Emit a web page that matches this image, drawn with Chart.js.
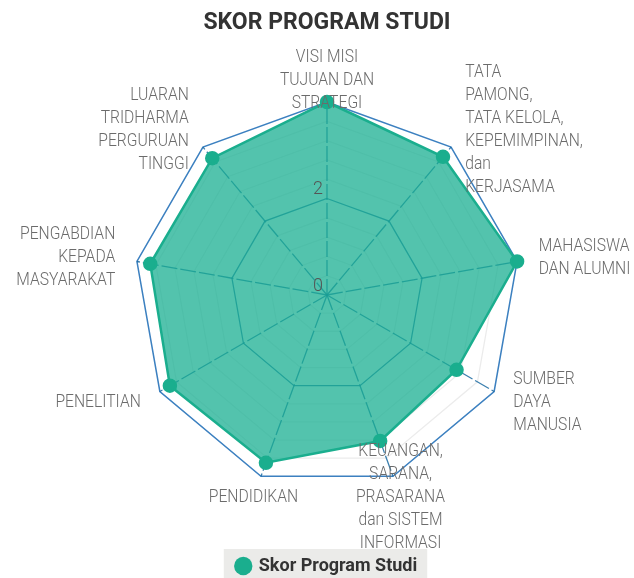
<!DOCTYPE html>
<html>
<head>
<meta charset="utf-8">
<script src="https://cdn.jsdelivr.net/npm/chart.js@4/dist/chart.umd.min.js"></script>
<style>
  html, body { margin: 0; padding: 0; background: #fff; }
  #wrap { width: 634px; height: 578px; }
</style>
</head>
<body>
<div id="wrap"><canvas id="grafik"></canvas></div>
<script>
const kategori = [
  ['VISI MISI', 'TUJUAN DAN', 'STRATEGI'],
  ['TATA', 'PAMONG,', 'TATA KELOLA,', 'KEPEMIMPINAN,', 'dan', 'KERJASAMA'],
  ['MAHASISWA', 'DAN ALUMNI'],
  ['SUMBER', 'DAYA', 'MANUSIA'],
  ['KEUANGAN,', 'SARANA,', 'PRASARANA', 'dan SISTEM', 'INFORMASI'],
  ['PENDIDIKAN'],
  ['PENELITIAN'],
  ['PENGABDIAN', 'KEPADA', 'MASYARAKAT'],
  ['LUARAN', 'TRIDHARMA', 'PERGURUAN', 'TINGGI']
];
const skor = [4.0, 3.74, 4.0, 3.1, 3.22, 3.7, 3.76, 3.72, 3.7];
const tickLabels = [0, 2];
const skalaMin = 0;
const skalaMax = 4;

const hijau = '#1aae8e';
const biru = '#3c80c0';
const garisTengah = 'rgba(25,105,160,0.85)';

// latar abu-abu di belakang legend
const latarLegend = {
  id: 'latarLegend',
  beforeDraw(chart) {
    const lg = chart.legend;
    if (!lg || !lg.legendHitBoxes.length) return;
    const hb = lg.legendHitBoxes[0];
    const ctx = chart.ctx;
    ctx.save();
    ctx.fillStyle = '#ebebe9';
    ctx.fillRect(hb.left - 13, hb.top + hb.height / 2 - 17, hb.width + 23, chart.height);
    ctx.restore();
  }
};

// label sudut dan angka skala, digambar di atas area data
const labelRadar = {
  id: 'labelRadar',
  afterDatasetsDraw(chart) {
    const sc = chart.scales.r;
    const ctx = chart.ctx;
    ctx.save();
    ctx.fillStyle = '#6b6b6b';
    ctx.font = '300 18px Roboto';
    ctx.textBaseline = 'middle';
    kategori.forEach((baris, i) => {
      const pos = sc.getPointPosition(i, sc.drawingArea + 22);
      const dx = pos.x - sc.xCenter;
      let align = 'center';
      if (dx > 100) align = 'left';
      else if (dx < -100) align = 'right';
      ctx.textAlign = align;
      baris.forEach((teks, j) => {
        const y = pos.y + (j - (baris.length - 1) / 2) * 23;
        ctx.save();
        ctx.translate(pos.x, y);
        ctx.scale(0.87, 1);
        ctx.fillText(teks, 0, 0);
        ctx.restore();
      });
    });
    ctx.fillStyle = '#555';
    ctx.textAlign = 'right';
    tickLabels.forEach(v => {
      const d = sc.getDistanceFromCenterForValue(v);
      ctx.fillText(String(v), sc.xCenter - 4, sc.yCenter - d - 9);
    });
    ctx.restore();
  }
};

const ctx = document.getElementById('grafik').getContext('2d');
new Chart(ctx, {
  type: 'radar',
  data: {
    labels: kategori,
    datasets: [{
      label: 'Skor Program Studi',
      data: skor,
      backgroundColor: 'rgba(26,175,145,0.75)',
      borderColor: hijau,
      borderWidth: 2.5,
      pointBackgroundColor: hijau,
      pointBorderColor: hijau,
      pointRadius: 6,
      pointStyle: 'circle',
      clip: false
    }]
  },
  options: {
    responsive: true,
    maintainAspectRatio: false,
    animation: false,
    layout: { padding: { left: 20, right: 0, top: 0, bottom: -7 } },
    scales: {
      r: {
        min: skalaMin,
        max: skalaMax,
        ticks: { stepSize: 0.4, display: false },
        pointLabels: { display: false },
        angleLines: { color: garisTengah, lineWidth: 1.3, borderDash: [16, 3] },
        grid: {
          color: c => {
            const v = c.tick ? c.tick.value : 0;
            if (Math.abs(v - skalaMax) < 1e-6) return biru;
            if (Math.abs(v - 2) < 1e-6) return garisTengah;
            return 'rgba(0,0,0,0.08)';
          },
          lineWidth: c => (c.tick && Math.abs(c.tick.value - skalaMax) < 1e-6) ? 1.5 : 1.3
        }
      }
    },
    plugins: {
      title: {
        display: true,
        text: 'SKOR PROGRAM STUDI',
        color: '#333',
        font: { family: 'Roboto', size: 23, weight: 'bold' },
        padding: { top: 9, bottom: 66 }
      },
      legend: {
        position: 'bottom',
        labels: {
          usePointStyle: true,
          pointStyle: 'circle',
          boxWidth: 13,
          boxHeight: 13,
          padding: 68,
          color: '#333',
          font: { family: 'Roboto', size: 18, weight: 'bold' },
          generateLabels(chart) {
            const items = Chart.defaults.plugins.legend.labels.generateLabels(chart);
            items.forEach(it => { it.fillStyle = hijau; it.strokeStyle = hijau; it.lineWidth = 0; });
            return items;
          }
        }
      },
      tooltip: { enabled: false }
    }
  },
  plugins: [latarLegend, labelRadar]
});
</script>
</body>
</html>
